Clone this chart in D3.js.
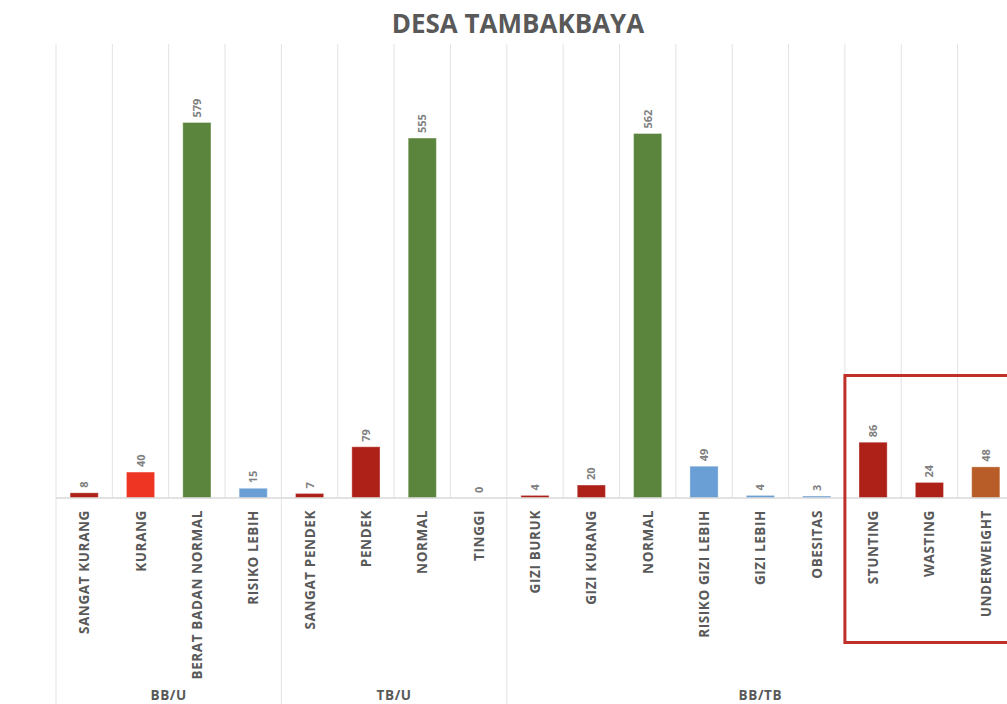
<!DOCTYPE html>
<html>
<head>
<meta charset="utf-8">
<script src="https://cdn.jsdelivr.net/npm/d3@7"></script>
<style>
  body { margin: 0; background: #fff; overflow: hidden; }
  text { font-family: "Open Sans", sans-serif; }
</style>
</head>
<body>
<div class="chart"></div>
<script>
// chart values
var categories = ["SANGAT KURANG", "KURANG", "BERAT BADAN NORMAL", "RISIKO LEBIH",
  "SANGAT PENDEK", "PENDEK", "NORMAL", "TINGGI",
  "GIZI BURUK", "GIZI KURANG", "NORMAL", "RISIKO GIZI LEBIH", "GIZI LEBIH", "OBESITAS",
  "STUNTING", "WASTING", "UNDERWEIGHT"];
var values = [8, 40, 579, 15, 7, 79, 555, 0, 4, 20, 562, 49, 4, 3, 86, 24, 48];
var groupNames = ["BB/U", "TB/U", "BB/TB"];
var groupSizes = [4, 4, 9];
var yTicks = [0, 700];

// bar colours, one per category
var dark = "#ae2119", bright = "#ee3524", green = "#5b853c", blue = "#6a9fd5", orange = "#b85c28";
var barColors = [dark, bright, green, blue,
  dark, dark, green, blue,
  dark, dark, green, blue, blue, blue,
  dark, dark, orange];

var svgWidth = 1007, svgHeight = 704;
var margin = { top: 44, left: 56 };
var baseY = 498;
var step = 56.35;

var svg = d3.select(".chart").append("svg")
  .attr("width", svgWidth)
  .attr("height", svgHeight);

var x = d3.scaleBand()
  .domain(d3.range(categories.length))
  .range([margin.left, margin.left + step * categories.length])
  .padding(0);

var y = d3.scaleLinear()
  .domain([yTicks[0], yTicks[1]])
  .range([baseY, margin.top]);

// title
svg.append("text")
  .attr("x", 518)
  .attr("y", 33)
  .attr("text-anchor", "middle")
  .attr("font-size", 26)
  .attr("font-weight", "bold")
  .attr("fill", "#595959")
  .text("DESA TAMBAKBAYA");

// vertical grid lines between categories
var bounds = d3.range(categories.length + 1).map(i => margin.left + i * x.step());
svg.append("g").selectAll("line")
  .data(bounds)
  .enter()
  .append("line")
  .attr("x1", d => d).attr("x2", d => d)
  .attr("y1", y(yTicks[1])).attr("y2", baseY)
  .attr("stroke", "#e3e3e3")
  .attr("stroke-width", 1);

// group separator lines down through the axis labels
var groupStarts = [0];
groupSizes.forEach((n, i) => groupStarts.push(groupStarts[i] + n));
svg.append("g").selectAll("line")
  .data(groupStarts)
  .enter()
  .append("line")
  .attr("x1", d => margin.left + d * x.step()).attr("x2", d => margin.left + d * x.step())
  .attr("y1", baseY).attr("y2", svgHeight)
  .attr("stroke", "#e3e3e3")
  .attr("stroke-width", 1);

// bars
var barW = x.bandwidth() * 0.5;
svg.append("g").selectAll("rect")
  .data(values)
  .enter()
  .append("rect")
  .attr("x", (d, i) => x(i) + (x.bandwidth() - barW) / 2)
  .attr("y", d => y(d))
  .attr("width", barW)
  .attr("height", d => baseY - y(d))
  .attr("fill", (d, i) => barColors[i])
  .attr("stroke", "#ffffff")
  .attr("stroke-opacity", 0.35)
  .attr("stroke-width", 1);

// baseline
svg.append("line")
  .attr("x1", margin.left).attr("x2", svgWidth)
  .attr("y1", baseY).attr("y2", baseY)
  .attr("stroke", "#d9d9d9")
  .attr("stroke-width", 1.5);

// value labels
svg.append("g").selectAll("text")
  .data(values)
  .enter()
  .append("text")
  .attr("transform", (d, i) => `translate(${x(i) + x.bandwidth() / 2 + 4}, ${y(d) - 5}) rotate(-90)`)
  .attr("text-anchor", "start")
  .attr("font-size", 11)
  .attr("font-weight", "bold")
  .attr("fill", "#808080")
  .text(d => d);

// category labels
svg.append("g").selectAll("text")
  .data(categories)
  .enter()
  .append("text")
  .attr("transform", (d, i) => `translate(${x(i) + x.bandwidth() / 2 + 5}, ${baseY + 12}) rotate(-90)`)
  .attr("text-anchor", "end")
  .attr("font-size", 13.5)
  .attr("font-weight", "bold")
  .attr("letter-spacing", 0.6)
  .attr("fill", "#595959")
  .text(d => d);

// group labels
svg.append("g").selectAll("text")
  .data(groupNames)
  .enter()
  .append("text")
  .attr("x", (d, i) => margin.left + (groupStarts[i] + groupSizes[i] / 2) * x.step())
  .attr("y", 700)
  .attr("text-anchor", "middle")
  .attr("font-size", 13.5)
  .attr("font-weight", "bold")
  .attr("letter-spacing", 0.6)
  .attr("fill", "#595959")
  .text(d => d);

// highlight box around the last three categories
svg.append("rect")
  .attr("x", x(14))
  .attr("y", 375.5)
  .attr("width", x.step() * 3 + 20)
  .attr("height", 267)
  .attr("fill", "none")
  .attr("stroke", "#c0302a")
  .attr("stroke-width", 3);
</script>
</body>
</html>
